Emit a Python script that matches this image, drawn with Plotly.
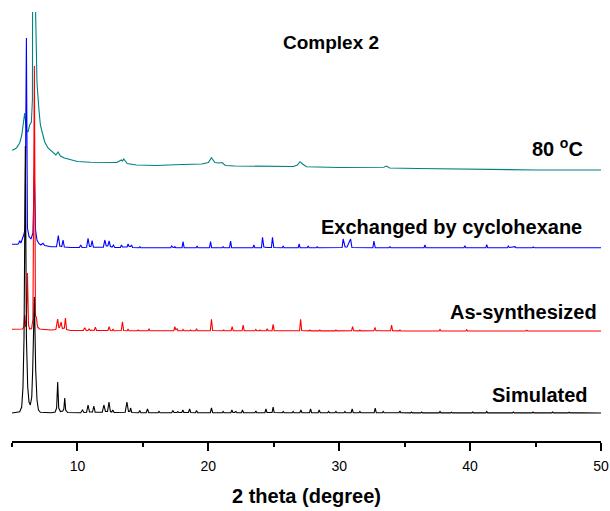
import plotly.graph_objects as go

# ---- Data (2theta, relative intensity) ----
sim_points = [
    (5.0, 0), (5.4, 0.5), (5.59, 1.3), (5.74, 6), (5.84, 26), (5.92, 76), (6.02, 267), (6.10, 76),
    (6.20, 26), (6.30, 11), (6.40, 8), (6.51, 16), (6.58, 43), (6.71, 116), (6.81, 43), (6.91, 13),
    (7.02, 3), (7.17, 0.7), (7.5, 0.3), (8.0, 0.3),
    (8.3, 1), (8.41, 5), (8.49, 31), (8.57, 5), (8.7, 1.5), (8.88, 2), (8.96, 4), (9.03, 15), (9.1, 3), (9.25, 0.5),
    (10.25, 0.3), (10.38, 3), (10.5, 0.5), (10.7, 0.8), (10.81, 8), (10.92, 1), (11.15, 1), (11.25, 7), (11.35, 0.8),
    (11.9, 0.8), (12.02, 8), (12.14, 1.5), (12.3, 1.5), (12.41, 11), (12.52, 1.5), (12.62, 1), (12.7, 3), (12.8, 0.5),
    (13.65, 0.8), (13.78, 11), (13.9, 1.5), (14.0, 1.5), (14.06, 5), (14.15, 0.5), (14.68, 0.3), (14.76, 2.5), (14.85, 0.3),
    (15.25, 0.3), (15.35, 4), (15.45, 0.3), (16.15, 0.2), (16.23, 1.5), (16.31, 0.2), (17.2, 0.3), (17.29, 2.5), (17.38, 0.5),
    (17.6, 0.5), (17.67, 1.5), (17.74, 0.5), (17.97, 0.5), (18.05, 3), (18.13, 0.5), (18.48, 0.5), (18.57, 4), (18.66, 0.5),
    (19.02, 0.3), (19.1, 2.5), (19.18, 0.3), (20.15, 0.3), (20.24, 5), (20.33, 0.3), (21.06, 0.2), (21.13, 1.5), (21.2, 0.2),
    (21.72, 0.3), (21.8, 3), (21.88, 0.5), (22.0, 0.5), (22.1, 1.5), (22.18, 0.3), (22.53, 0.3), (22.61, 3), (22.69, 0.3),
    (23.56, 0.2), (23.63, 2), (23.7, 0.2), (24.32, 0.3), (24.4, 4), (24.48, 0.5), (24.87, 0.5), (24.95, 6), (25.03, 0.5),
    (25.65, 0.2), (25.72, 1.5), (25.79, 0.2), (26.41, 0.2), (26.48, 1.5), (26.55, 0.2), (26.99, 0.3), (27.07, 3), (27.15, 0.3),
    (27.73, 0.3), (27.81, 4), (27.89, 0.3), (28.39, 0.3), (28.47, 3), (28.55, 0.3), (29.12, 0.2), (29.19, 1.5), (29.26, 0.2),
    (29.68, 0.2), (29.75, 1.5), (29.82, 0.2), (30.37, 0.2), (30.44, 1.5), (30.51, 0.2), (30.91, 0.3), (30.99, 4), (31.07, 0.3),
    (31.51, 0.2), (31.58, 1.5), (31.65, 0.2), (32.67, 0.3), (32.75, 5), (32.83, 0.3), (33.29, 0.2), (33.36, 1.5), (33.43, 0.2),
    (34.57, 0.2), (34.64, 2), (34.71, 0.2), (35.46, 0.1), (35.53, 1), (35.6, 0.1), (36.23, 0.1), (36.3, 1), (36.37, 0.1),
    (37.63, 0.1), (37.7, 1.5), (37.77, 0.1), (38.5, 0.1), (38.57, 0.8), (38.64, 0.1), (40.13, 0.1), (40.2, 1), (40.27, 0.1),
    (41.2, 0.1), (41.27, 1.5), (41.34, 0.1), (42.3, 0.1), (42.37, 0.8), (42.44, 0.1), (43.23, 0.1), (43.3, 1), (43.37, 0.1),
    (44.73, 0.1), (44.8, 1), (44.87, 0.1), (46.23, 0.1), (46.3, 1), (46.37, 0.1), (47.5, 0.1), (47.57, 0.8), (47.64, 0.1),
    (48.43, 0.1), (48.5, 0.8), (48.57, 0.1), (50.0, 0),
]

assyn_points = [
    (5.0, 1.7), (5.5, 1.7), (5.8, 2), (5.9, 4), (5.97, 16), (6.04, 4), (6.1, 8), (6.18, 58), (6.26, 6), (6.35, 2),
    (6.5, 2.5), (6.6, 12), (6.71, 265), (6.79, 15), (6.86, 14), (6.95, 4), (7.1, 2), (7.5, 1.5), (8.0, 1),
    (8.35, 1.5), (8.49, 12), (8.58, 3), (8.65, 4), (8.75, 9), (8.85, 2.5), (9.0, 3), (9.08, 13), (9.17, 1.5), (9.5, 0.5),
    (10.45, 0.5), (10.56, 3.3), (10.67, 0.5), (10.8, 0.5), (10.89, 2), (10.98, 0.5), (11.07, 1), (11.28, 0.5), (11.37, 3.7),
    (11.46, 0.5), (12.33, 0.5), (12.42, 4.3), (12.51, 0.5), (12.65, 0.3), (12.72, 2), (12.8, 0.3), (13.35, 0.5), (13.44, 9.3),
    (13.53, 0.5), (13.8, 0.3), (13.87, 2), (13.94, 0.3), (14.56, 0.2), (14.63, 1), (14.7, 0.2), (15.4, 0.2), (15.47, 2.3),
    (15.54, 0.2), (17.36, 0.3), (17.44, 4.3), (17.52, 1), (17.61, 2.3), (17.68, 0.3), (18.0, 0.2), (18.07, 1.5), (18.14, 0.2),
    (18.57, 0.2), (18.64, 1), (18.71, 0.2), (19.03, 0.2), (19.1, 2.3), (19.17, 0.2), (20.15, 0.3), (20.24, 11.7), (20.33, 0.5),
    (21.11, 0.2), (21.18, 1), (21.25, 0.2), (21.74, 0.3), (21.82, 4.3), (21.9, 0.3), (22.58, 0.3), (22.66, 6), (22.74, 0.3),
    (23.56, 0.2), (23.63, 1.5), (23.7, 0.2), (23.87, 0.2), (23.94, 1), (24.01, 0.2), (24.43, 0.2), (24.5, 2.3), (24.57, 0.2),
    (24.87, 0.3), (24.95, 6.7), (25.03, 0.3), (26.97, 0.3), (27.05, 11.7), (27.13, 0.5), (27.69, 0.1), (27.76, 1), (27.83, 0.1),
    (28.45, 0.1), (28.52, 1), (28.59, 0.1), (29.68, 0.1), (29.75, 1), (29.82, 0.1), (30.94, 0.2), (31.02, 4.3), (31.1, 0.2),
    (31.51, 0.1), (31.58, 1), (31.65, 0.1), (32.65, 0.2), (32.73, 3.7), (32.81, 0.2), (33.92, 0.2), (34.0, 6), (34.08, 0.2),
    (34.57, 0.1), (34.64, 1), (34.71, 0.1), (35.54, 0), (35.61, 0.6), (35.68, 0), (37.63, 0), (37.7, 1.5), (37.77, 0),
    (39.67, 0), (39.74, 1.3), (39.81, 0), (44.26, 0), (44.33, 0.8), (44.4, 0), (50.0, 0),
]

exch_points = [
    (5.0, 3.7), (5.45, 3.7), (5.52, 5), (5.59, 7.3), (5.68, 5), (5.76, 8), (5.84, 13), (5.92, 14), (6.0, 20), (6.1, 210),
    (6.18, 20), (6.3, 11.3), (6.45, 9), (6.6, 15), (6.71, 75), (6.8, 18), (6.91, 8), (7.05, 4.5), (7.2, 3), (7.37, 4.7),
    (7.5, 2.5), (8.0, 1.2), (8.4, 1.2), (8.54, 12.3), (8.65, 2), (8.8, 1.5), (8.9, 7.8), (9.0, 1), (9.5, 0.5), (10.15, 0.5),
    (10.25, 3), (10.35, 0.5), (10.7, 0.8), (10.81, 9.7), (10.92, 1.5), (11.03, 1.5), (11.12, 7.3), (11.22, 0.8), (11.98, 0.8),
    (12.09, 8), (12.2, 2), (12.32, 2), (12.42, 7), (12.52, 1.5), (12.65, 1), (12.75, 3), (12.85, 0.5), (13.28, 0.5),
    (13.36, 3), (13.44, 1), (13.79, 1), (13.87, 4), (13.95, 1.5), (14.05, 1.5), (14.13, 3), (14.21, 0.5), (14.69, 0.3),
    (14.76, 1.3), (14.83, 0.3), (15.25, 0.2), (15.32, 0.7), (15.39, 0.2), (17.12, 0.3), (17.2, 2), (17.3, 0.5), (17.38, 0.5),
    (17.44, 1.3), (17.5, 0.3), (17.99, 0.3), (18.07, 6.3), (18.15, 0.3), (19.07, 0.3), (19.14, 2), (19.21, 0.3), (20.09, 0.3),
    (20.17, 6.3), (20.25, 0.3), (21.06, 0.3), (21.13, 1.3), (21.2, 0.3), (21.62, 0.3), (21.7, 7), (21.78, 0.3), (23.41, 0.3),
    (23.48, 3), (23.55, 0.3), (24.06, 0.3), (24.14, 10.7), (24.24, 1), (24.5, 0.5), (24.82, 0.5), (24.9, 10.7), (25.0, 0.5),
    (25.65, 0.3), (25.72, 2), (25.79, 0.3), (26.87, 0.3), (26.94, 4), (27.01, 0.3), (27.56, 0.3), (27.63, 2), (27.7, 0.3),
    (28.25, 0.3), (28.32, 1.3), (28.39, 0.3), (30.22, 0.5), (30.3, 9), (30.45, 1), (30.6, 1), (30.87, 9), (30.97, 0.5),
    (32.57, 0.3), (32.65, 7), (32.75, 0.3), (33.8, 0.3), (33.87, 1.3), (33.94, 0.3), (36.48, 0.3), (36.55, 3), (36.62, 0.3),
    (39.53, 0.3), (39.6, 2.3), (39.67, 0.3), (41.2, 0.3), (41.27, 3.3), (41.34, 0.3), (42.85, 0.3), (42.92, 2), (43.0, 0.5),
    (43.43, 1.3), (43.5, 0.3), (44.76, 0.3), (44.83, 1), (44.9, 0.3), (48.58, 0.3), (48.65, 1), (48.72, 0.3), (50.0, 0.3),
]

heat_points = [
    (5.0, 20), (5.08, 20), (5.34, 22), (5.59, 27), (5.75, 35), (5.84, 43), (5.97, 57), (6.1, 40), (6.22, 38), (6.35, 45),
    (6.48, 48), (6.56, 70), (6.66, 700), (6.8, 160), (6.91, 87), (7.06, 60), (7.17, 45), (7.32, 37), (7.5, 28), (7.75, 22),
    (8.13, 17), (8.35, 15), (8.52, 18), (8.7, 14), (9.0, 12), (10.0, 8.5), (11.0, 7.7), (12.2, 7.3), (13.0, 7.5), (13.36, 10),
    (13.45, 9), (13.54, 11), (13.8, 6.5), (14.5, 5), (16.0, 4.5), (18.0, 5.5), (19.5, 6), (20.0, 7.5), (20.24, 12.3),
    (20.5, 7.5), (20.8, 7), (21.05, 7.5), (21.3, 4.5), (22.0, 4), (25.0, 4), (26.5, 3.5), (26.8, 5), (27.0, 8.3), (27.2, 6),
    (27.5, 3.3), (30.0, 2.5), (33.4, 2.8), (33.62, 4), (33.85, 2), (36.0, 1.5), (40.0, 0.7), (45.0, 0), (50.0, 0),
]

series_names = ["Simulated", "As-synthesized", "Exchanged by cyclohexane", "80 <sup>o</sup>C"]
series_points = [sim_points, assyn_points, exch_points, heat_points]
offsets = [28, 110, 193, 271]
colors = ["#000000", "#FF0000", "#0000FF", "#008080"]

x_ticks = [10, 20, 30, 40, 50]

FONT = "Liberation Sans, Arial, sans-serif"

fig = go.Figure()
draw_order = [3, 2, 1, 0]
for i in draw_order:
    pts = series_points[i]
    fig.add_trace(go.Scatter(
        x=[p[0] for p in pts],
        y=[p[1] + offsets[i] for p in pts],
        mode="lines",
        line=dict(color=colors[i], width=1.1),
        name=series_names[i],
        showlegend=False,
        hoverinfo="skip",
    ))

# series labels (paper coordinates of the right edge / vertical middle)
label_pos = [(0.9813, 0.1072), (0.9966, 0.3007), (0.971, 0.4988), (0.9728, 0.683)]
for i, name in enumerate(series_names):
    fig.add_annotation(
        text="<b>" + name + "</b>", x=label_pos[i][0], y=label_pos[i][1],
        xref="paper", yref="paper", xanchor="right", yanchor="middle",
        showarrow=False, font=dict(family=FONT, size=20, color="black"),
    )

fig.add_annotation(
    text="<b>Complex 2</b>", x=0.5416, y=0.930, xref="paper", yref="paper",
    xanchor="center", yanchor="middle", showarrow=False,
    font=dict(family=FONT, size=19, color="black"),
)

fig.update_layout(
    width=610, height=511,
    margin=dict(l=12, r=9, t=12, b=70),
    paper_bgcolor="white", plot_bgcolor="white",
    font=dict(family=FONT, color="black"),
    xaxis=dict(
        range=[5, 50], tickvals=x_ticks, ticktext=[str(v) for v in x_ticks],
        showline=True, linecolor="black", linewidth=1.5,
        ticks="outside", ticklen=8, tickwidth=1.5, tickcolor="black",
        ticklabelstandoff=3,
        minor=dict(ticks="outside", ticklen=4, tickwidth=1.5, tickcolor="black", dtick=5, tick0=5, showgrid=False),
        showgrid=False, zeroline=False, automargin=False,
        tickfont=dict(family=FONT, size=14, color="black"),
        title=dict(text="<b>2 theta (degree)</b>", font=dict(family=FONT, size=20, color="black"), standoff=16),
    ),
    yaxis=dict(range=[0, 429], visible=False, fixedrange=True),
)

fig.write_html(
    "out.html",
    config={"displayModeBar": False},
    post_script="document.body.style.margin='0';document.body.style.overflow='hidden';",
)
